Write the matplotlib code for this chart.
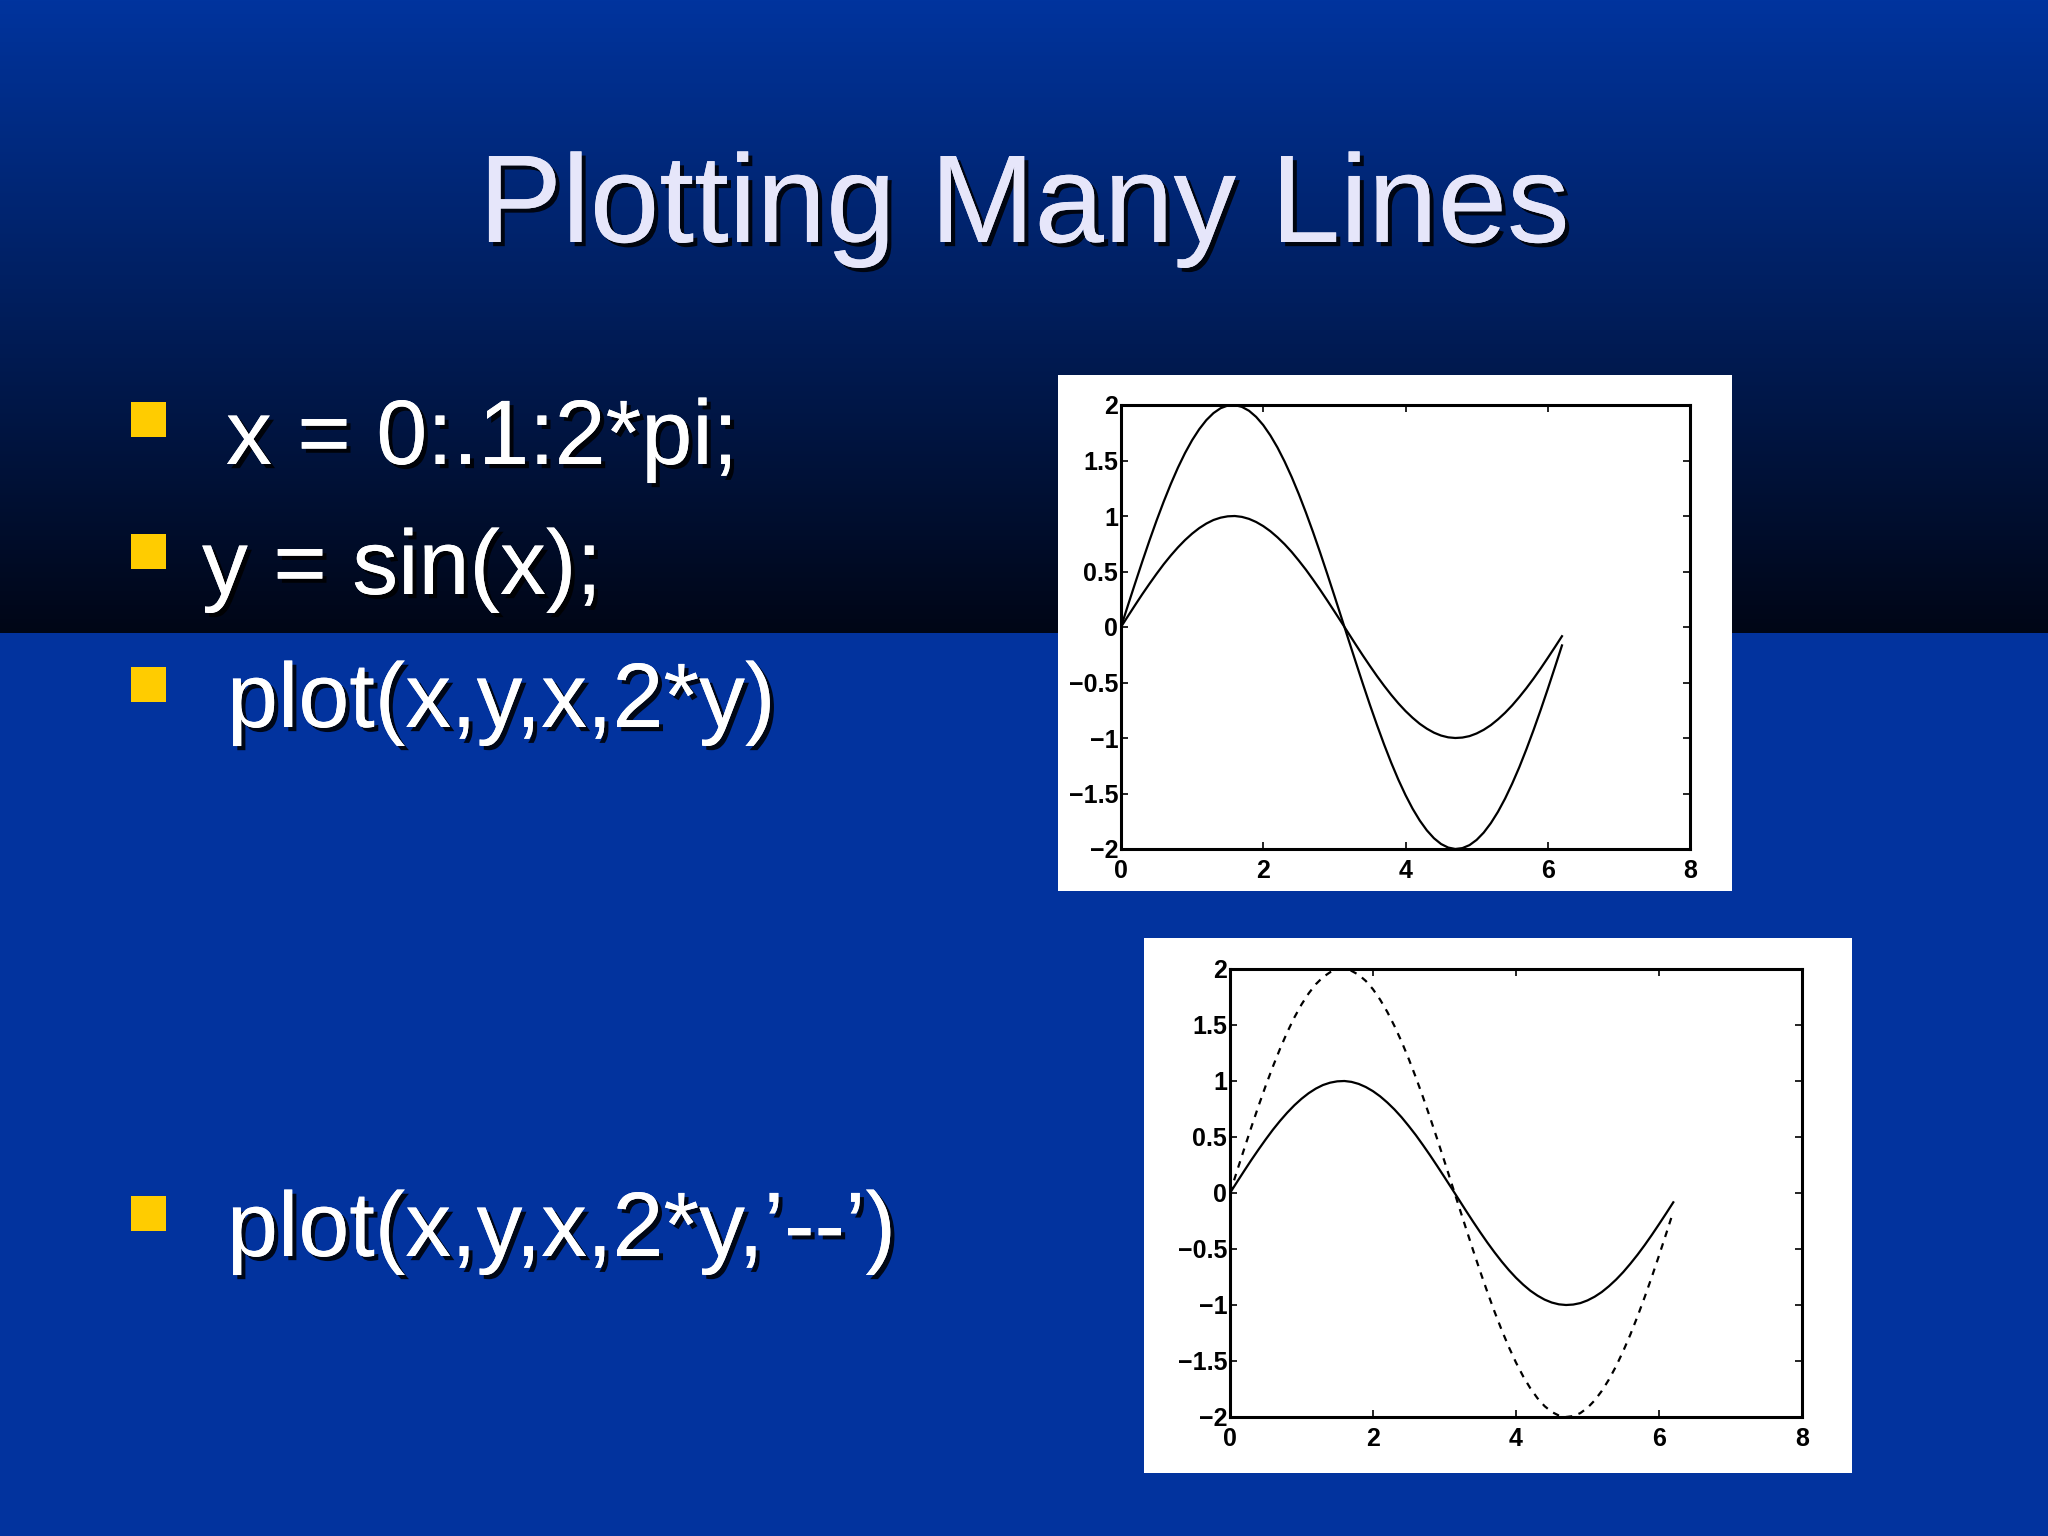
import numpy as np
import matplotlib
matplotlib.use("Agg")
import matplotlib.pyplot as plt
import matplotlib.patheffects as pe
from matplotlib.patches import Rectangle

# slide text
title = "Plotting Many Lines"
bullets = ["x = 0:.1:2*pi;", "y = sin(x);", "plot(x,y,x,2*y)", "plot(x,y,x,2*y,\u2019--\u2019)"]

# x = 0:.1:2*pi
x = [0.0, 0.1, 0.2, 0.3, 0.4, 0.5, 0.6, 0.7, 0.8, 0.9,
     1.0, 1.1, 1.2, 1.3, 1.4, 1.5, 1.6, 1.7, 1.8, 1.9,
     2.0, 2.1, 2.2, 2.3, 2.4, 2.5, 2.6, 2.7, 2.8, 2.9,
     3.0, 3.1, 3.2, 3.3, 3.4, 3.5, 3.6, 3.7, 3.8, 3.9,
     4.0, 4.1, 4.2, 4.3, 4.4, 4.5, 4.6, 4.7, 4.8, 4.9,
     5.0, 5.1, 5.2, 5.3, 5.4, 5.5, 5.6, 5.7, 5.8, 5.9,
     6.0, 6.1, 6.2]
# y = sin(x)
y = [0.000, 0.100, 0.199, 0.296, 0.389, 0.479, 0.565, 0.644, 0.717, 0.783,
     0.841, 0.891, 0.932, 0.964, 0.985, 0.997, 1.000, 0.992, 0.974, 0.946,
     0.909, 0.863, 0.808, 0.746, 0.676, 0.598, 0.516, 0.427, 0.335, 0.239,
     0.141, 0.042, -0.058, -0.158, -0.256, -0.351, -0.443, -0.530, -0.612, -0.688,
     -0.757, -0.818, -0.872, -0.916, -0.952, -0.978, -0.994, -1.000, -0.996, -0.983,
     -0.959, -0.926, -0.884, -0.832, -0.773, -0.706, -0.631, -0.551, -0.465, -0.374,
     -0.279, -0.182, -0.083]
# 2*y
y2 = [0.000, 0.200, 0.397, 0.591, 0.779, 0.959, 1.129, 1.288, 1.435, 1.567,
      1.683, 1.782, 1.864, 1.927, 1.971, 1.995, 1.999, 1.983, 1.948, 1.893,
      1.819, 1.726, 1.617, 1.491, 1.351, 1.197, 1.031, 0.855, 0.670, 0.478,
      0.282, 0.083, -0.117, -0.315, -0.511, -0.702, -0.885, -1.060, -1.224, -1.376,
      -1.514, -1.637, -1.743, -1.832, -1.903, -1.955, -1.987, -2.000, -1.992, -1.965,
      -1.918, -1.852, -1.767, -1.665, -1.546, -1.411, -1.263, -1.101, -0.929, -0.748,
      -0.559, -0.364, -0.166]

x_ticks = [0, 2, 4, 6, 8]
y_ticks = [-2, -1.5, -1, -0.5, 0, 0.5, 1, 1.5, 2]
y_ticklabels = ["\u22122", "\u22121.5", "\u22121", "\u22120.5", "0", "0.5", "1", "1.5", "2"]

W, H = 2048, 1536
fig = plt.figure(figsize=(W / 100, H / 100), dpi=100)


def fx(px):
    return px / W


def fy(py):
    return 1 - py / H


# background: dark gradient band on top, flat blue below
bg = np.zeros((H, 1, 3))
band = 633
t = np.linspace(0, 1, band)[:, None]
top_c = np.array([0, 52, 158]) / 255
bot_c = np.array([0, 6, 22]) / 255
bg[:band, 0, :] = top_c * (1 - t) + bot_c * t
bg[band:, 0, :] = np.array([2, 51, 158]) / 255
ax_bg = fig.add_axes([0, 0, 1, 1], zorder=-10)
ax_bg.imshow(bg, aspect="auto", extent=[0, 1, 0, 1])
ax_bg.set_axis_off()

shadow = [pe.withSimplePatchShadow(offset=(3, -3), shadow_rgbFace="black", alpha=0.85), pe.Normal()]

fig.text(fx(1024), fy(242), title, ha="center", va="baseline", fontsize=90,
         color="#e6e6fa", family=["Liberation Sans"], path_effects=shadow)

font = ["Liberation Sans"]
text_x = [226, 202, 227, 227]
baselines = [464, 594, 727, 1256]
square_top = [402, 534, 667, 1196]
for b, tx, bl, st in zip(bullets, text_x, baselines, square_top):
    fig.text(fx(tx), fy(bl), b, ha="left", va="baseline", fontsize=66,
             color="white", family=font, path_effects=shadow)
    fig.patches.append(Rectangle((fx(131), fy(st + 35)), 35 / W, 35 / H,
                                 transform=fig.transFigure, facecolor="#ffcc00",
                                 edgecolor="none", zorder=5))


def sine_panel(box, axbox, styles):
    bx0, by0, bx1, by1 = box
    fig.patches.append(Rectangle((fx(bx0), fy(by1)), (bx1 - bx0) / W, (by1 - by0) / H,
                                 transform=fig.transFigure, facecolor="white",
                                 edgecolor="none", zorder=1))
    ax0, ay0, ax1, ay1 = axbox
    ax = fig.add_axes([fx(ax0), fy(ay1), (ax1 - ax0) / W, (ay1 - ay0) / H], zorder=2)
    ax.plot(x, y, color="black", linestyle=styles[0], lw=1.6)
    ax.plot(x, y2, color="black", linestyle=styles[1], lw=1.6)
    ax.set_xlim(0, 8)
    ax.set_ylim(-2, 2)
    ax.set_xticks(x_ticks)
    ax.set_yticks(y_ticks)
    ax.set_yticklabels(y_ticklabels)
    ax.tick_params(direction="in", top=True, right=True, length=5, width=1.2,
                   labelsize=18)
    ax.tick_params(axis="x", pad=7.5)
    ax.tick_params(axis="y", pad=2)
    for lab in ax.get_xticklabels() + ax.get_yticklabels():
        lab.set_family(font)
        lab.set_fontweight("bold")
    for s in ax.spines.values():
        s.set_linewidth(2.2)
    return ax


sine_panel((1058, 375, 1732, 891), (1121, 405, 1690, 849), ("-", "-"))
sine_panel((1144, 938, 1852, 1473), (1230, 969, 1802, 1417), ("-", (0, (3, 3))))

fig.savefig("out.png", dpi=100)
